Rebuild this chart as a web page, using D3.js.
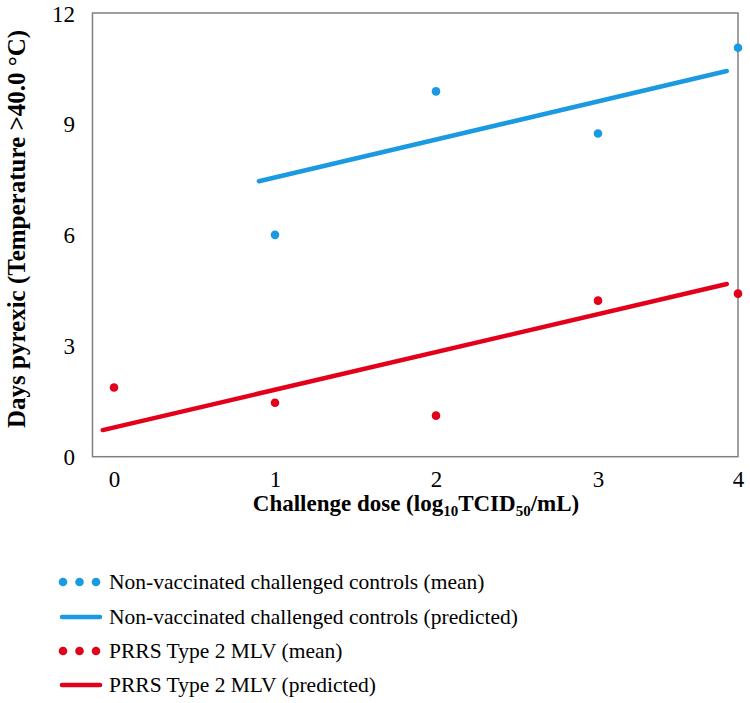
<!DOCTYPE html>
<html>
<head>
<meta charset="utf-8">
<script src="https://cdn.jsdelivr.net/npm/d3@7"></script>
<style>
  html, body { margin: 0; padding: 0; background: #fff; }
  svg { display: block; }
</style>
</head>
<body>
<svg id="chart" width="750" height="703"></svg>
<script>
// ---- Data ----
const doses = [0, 1, 2, 3, 4];
const xTickLabels = ["0", "1", "2", "3", "4"];
const yTicks = [0, 3, 6, 9, 12];

const controlDoses = [1, 2, 3, 4];
const controlMean = [6.0, 9.88, 8.74, 11.06];
const controlPredX = [0.9, 3.92];
const controlPredY = [7.45, 10.43];

const mlvDoses = [0, 1, 2, 3, 4];
const mlvMean = [1.87, 1.46, 1.11, 4.22, 4.41];
const mlvPredX = [-0.07, 3.92];
const mlvPredY = [0.72, 4.67];

const legendLabels = [
  "Non-vaccinated challenged controls (mean)",
  "Non-vaccinated challenged controls (predicted)",
  "PRRS Type 2 MLV (mean)",
  "PRRS Type 2 MLV (predicted)"
];

const BLUE = "#1a9ae0";
const RED = "#e2001a";
const SERIF = "Liberation Serif";

// ---- Layout ----
const svg = d3.select("#chart").attr("font-family", SERIF);
const mLeft = 92.5, mRight = 738, mTop = 13, mBottom = 456.7;

// Piecewise linear x scale (original axis spacing is uneven)
const x = d3.scaleLinear()
  .domain([-0.133, 0, 1, 2, 3, 4])
  .range([mLeft, 114, 275, 436, 598, 738]);
const y = d3.scaleLinear().domain([0, 12]).range([mBottom, mTop]);

// frame
svg.append("rect")
  .attr("x", mLeft).attr("y", mTop)
  .attr("width", mRight - mLeft).attr("height", mBottom - mTop)
  .attr("fill", "none").attr("stroke", "#808080").attr("stroke-width", 1.5);

// y axis
const yAxis = d3.axisLeft(y).tickValues(yTicks).tickSize(0).tickPadding(0).tickFormat(d3.format("d"));
const gy = svg.append("g").attr("transform", `translate(75,0)`).call(yAxis)
  .attr("font-family", SERIF).attr("font-size", 23);
gy.select(".domain").remove();
gy.selectAll("text").attr("dy", "0.35em").attr("fill", "#000");

// x axis
const xAxis = d3.axisBottom(x).tickValues(doses).tickSize(0).tickPadding(0)
  .tickFormat((d, i) => xTickLabels[i]);
const gx = svg.append("g").attr("transform", `translate(0,${mBottom})`).call(xAxis)
  .attr("font-family", SERIF).attr("font-size", 23);
gx.select(".domain").remove();
gx.selectAll("text").attr("y", 30).attr("dy", 0).attr("fill", "#000");

// axis titles
const xt = svg.append("text")
  .attr("x", 416).attr("y", 511)
  .attr("text-anchor", "middle")
  .attr("font-family", SERIF)
  .attr("font-weight", "bold").attr("font-size", 23);
xt.append("tspan").text("Challenge dose (log");
xt.append("tspan").text("10").attr("dy", 5).attr("font-size", 15);
xt.append("tspan").text("TCID").attr("dy", -5);
xt.append("tspan").text("50").attr("dy", 5).attr("font-size", 15);
xt.append("tspan").text("/mL)").attr("dy", -5);

svg.append("text")
  .attr("transform", "translate(25,229) rotate(-90)")
  .attr("text-anchor", "middle")
  .attr("font-family", SERIF)
  .attr("font-weight", "bold").attr("font-size", 25)
  .text("Days pyrexic (Temperature >40.0 °C)");

// predicted lines
const line = d3.line().x(d => x(d[0])).y(d => y(d[1]));
svg.append("path")
  .datum(controlPredX.map((v, i) => [v, controlPredY[i]]))
  .attr("d", line).attr("fill", "none")
  .attr("stroke", BLUE).attr("stroke-width", 4.5).attr("stroke-linecap", "round");
svg.append("path")
  .datum(mlvPredX.map((v, i) => [v, mlvPredY[i]]))
  .attr("d", line).attr("fill", "none")
  .attr("stroke", RED).attr("stroke-width", 4.5).attr("stroke-linecap", "round");

// mean points
svg.append("g").selectAll("circle")
  .data(controlDoses.map((d, i) => [d, controlMean[i]]))
  .join("circle")
  .attr("cx", d => x(d[0])).attr("cy", d => y(d[1]))
  .attr("r", 4.3).attr("fill", BLUE);
svg.append("g").selectAll("circle")
  .data(mlvDoses.map((d, i) => [d, mlvMean[i]]))
  .join("circle")
  .attr("cx", d => x(d[0])).attr("cy", d => y(d[1]))
  .attr("r", 4.3).attr("fill", RED);

// legend
const legendY = [582, 617, 651, 685];
const legendType = ["dots", "line", "dots", "line"];
const legendColor = [BLUE, BLUE, RED, RED];
const lg = svg.append("g").attr("font-family", SERIF);
legendLabels.forEach((lab, i) => {
  const g = lg.append("g").attr("transform", `translate(0,${legendY[i]})`);
  if (legendType[i] === "dots") {
    [63, 79.5, 96].forEach(cx => g.append("circle").attr("cx", cx).attr("cy", 0).attr("r", 4.3).attr("fill", legendColor[i]));
  } else {
    g.append("line").attr("x1", 62).attr("x2", 100).attr("y1", 0).attr("y2", 0)
      .attr("stroke", legendColor[i]).attr("stroke-width", 4.5).attr("stroke-linecap", "round");
  }
  g.append("text").attr("x", 109).attr("y", 0).attr("dy", "0.33em")
    .attr("font-size", 21.5).attr("fill", "#000").text(lab);
});
</script>
</body>
</html>
